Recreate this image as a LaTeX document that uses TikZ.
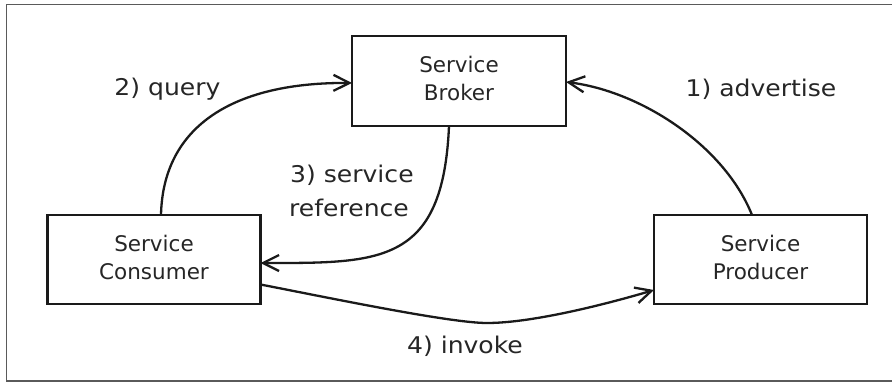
\documentclass[tikz,border=0pt]{standalone}
\usepackage{fontspec}
\setmainfont{DejaVu Sans}
\newfontfamily\labelfont[FakeStretch=1.09]{DejaVu Sans}
\usetikzlibrary{arrows.meta}

\definecolor{ink}{HTML}{1A1A1A}
\definecolor{textink}{HTML}{262626}
\definecolor{framegray}{HTML}{5A5A5A}

\tikzset{
  box/.style={draw=ink, line width=2.9pt, minimum width=213pt, minimum height=89pt,
    inner sep=0pt, outer sep=0pt, align=center, text=textink,
    font=\fontsize{21.5}{28}\selectfont},
  lbl/.style={inner sep=0pt, text=textink, font=\labelfont\fontsize{23}{34}\selectfont},
  flow/.style={draw=ink, line width=2.3pt,
    -{Straight Barb[length=16pt, width=16pt, line width=2.3pt]}},
}

\newcommand{\lowstrut}{\rule[-5pt]{0pt}{5pt}}

\begin{document}
\begin{tikzpicture}[x=1pt, y=-1pt]
  \useasboundingbox (0,0) rectangle (892,383);

  % outer frame (open on the right)
  \draw[framegray, line width=1.6pt] (892,4.5) -| (6.5,381) -- (892,381);

  % the three parties
  \node[box, minimum width=214pt, minimum height=90pt] (brk) at (459,81) {Service\\Broker\lowstrut};
  \node[box] (cons) at (154,259.5) {Service\\Consumer\lowstrut};
  \node[box] (prod) at (760.5,259.5) {Service\\Producer\lowstrut};

  % 1) advertise
  \draw[flow] ([xshift=-8.5pt]prod.north) .. controls (724,145) and (640,91) .. ([yshift=-1pt]brk.east);
  % 2) query
  \draw[flow] ([xshift=7pt]cons.north) .. controls (163,125) and (235,82) .. ([yshift=-2pt]brk.west);
  % 3) service reference
  \draw[flow] ([xshift=-10pt]brk.south) .. controls (443,265) and (380,263) .. ([yshift=-3.5pt]cons.east);
  % 4) invoke
  \coordinate (low) at (487,323);
  \draw[flow] ([yshift=-25pt]cons.east) .. controls (330,298) and (450,323) .. (low)
    .. controls (530,323) and (600,306) .. ([yshift=-30.5pt]prod.west);

  % step labels
  \node[lbl, anchor=base] (lq) at (167.5,95) {2) query};
  \node[lbl, anchor=base] (la) at (761,96) {1) advertise};
  \node[lbl, anchor=base west] (lr1) at (290,182) {3) service};
  \node[lbl, anchor=base west] (lr2) at (289,216.5) {reference};
  \node[lbl, anchor=base] (li) at (465,353) {4) invoke};
\end{tikzpicture}
\end{document}
